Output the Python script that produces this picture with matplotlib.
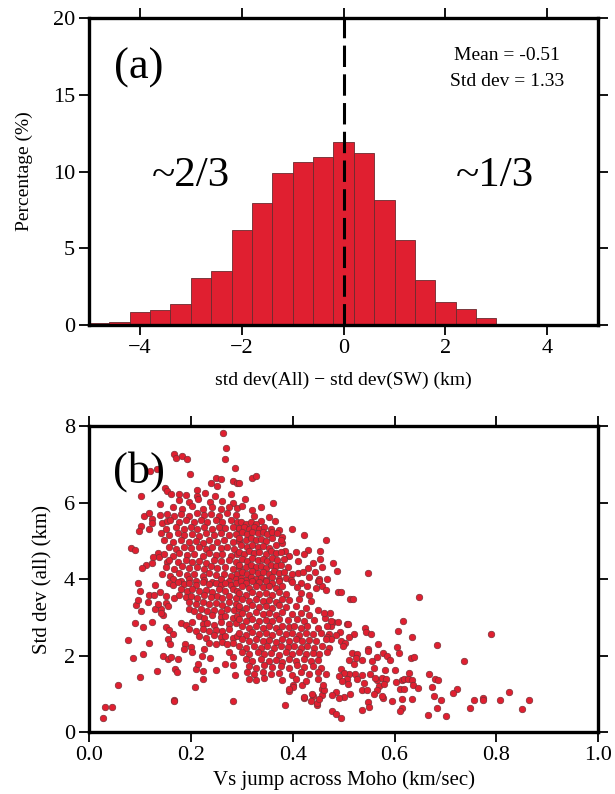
import numpy as np
import matplotlib
matplotlib.use('Agg')
import matplotlib.pyplot as plt

plt.rcParams['font.family'] = ['Liberation Serif', 'DejaVu Serif']

# (a) histogram: percentage per 0.4 km bin, starting at -5 km
bin_start = -5.0
bin_width = 0.4
percentage = [0.1, 0.15, 0.83, 0.98, 1.37, 3.05, 3.51, 6.21, 7.97, 9.87,
              10.63, 10.92, 11.9, 11.24, 8.13, 5.56, 2.94, 1.48, 1.05, 0.41]
mean_txt = 'Mean = -0.51'
std_txt = 'Std dev = 1.33'

# (b) scatter: Vs jump (km/s) vs std dev (km)
points_txt = """
0.263 7.82, 0.270 7.43, 0.267 7.14, 0.287 6.90, 0.166 7.28, 0.171 7.16, 0.182 7.21, 0.193 7.14,
0.199 6.75, 0.119 6.82, 0.134 6.88, 0.103 6.17, 0.149 6.38, 0.154 6.30, 0.139 5.95, 0.249 6.63,
0.259 6.61, 0.240 6.50, 0.252 6.43, 0.283 6.57, 0.291 6.50, 0.213 6.33, 0.228 6.26, 0.162 6.21,
0.177 6.21, 0.191 6.19, 0.213 6.17, 0.247 6.17, 0.279 6.21, 0.109 5.65, 0.118 5.72, 0.139 5.67,
0.154 5.71, 0.166 5.64, 0.124 5.57, 0.123 5.46, 0.103 5.38, 0.118 5.31, 0.099 5.26, 0.144 5.46,
0.154 5.52, 0.152 5.32, 0.083 4.81, 0.090 4.77, 0.136 4.68, 0.138 4.57, 0.126 4.57, 0.154 4.44,
0.123 4.43, 0.111 4.36, 0.104 4.28,
0.177 6.06, 0.197 6.01, 0.215 6.08, 0.237 6.02, 0.261 6.05, 0.283 5.99,
0.164 5.88, 0.183 5.83, 0.203 5.90, 0.223 5.84, 0.242 5.89, 0.259 5.82, 0.275 5.87, 0.291 5.85,
0.180 5.71, 0.196 5.66, 0.213 5.72, 0.226 5.67, 0.239 5.70, 0.255 5.65, 0.272 5.72, 0.288 5.68,
0.160 5.54, 0.177 5.49, 0.190 5.55, 0.206 5.50, 0.219 5.53, 0.232 5.48, 0.249 5.55, 0.262 5.50,
0.278 5.54, 0.291 5.49,
0.170 5.36, 0.187 5.31, 0.200 5.37, 0.213 5.32, 0.226 5.35, 0.242 5.30, 0.255 5.37, 0.268 5.33,
0.282 5.36, 0.295 5.31,
0.141 5.19, 0.157 5.14, 0.174 5.20, 0.187 5.15, 0.203 5.18, 0.216 5.13, 0.229 5.19, 0.246 5.15,
0.259 5.20, 0.275 5.14, 0.288 5.18,
0.147 5.01, 0.164 4.96, 0.180 5.02, 0.196 4.97, 0.210 5.00, 0.223 4.95, 0.236 5.02, 0.252 4.98,
0.265 5.01, 0.282 4.96, 0.295 5.00,
0.157 4.84, 0.170 4.79, 0.187 4.85, 0.200 4.80, 0.216 4.83, 0.229 4.78, 0.242 4.85, 0.259 4.81,
0.272 4.84, 0.285 4.79,
0.147 4.66, 0.164 4.61, 0.177 4.67, 0.193 4.62, 0.206 4.65, 0.223 4.60, 0.236 4.67, 0.249 4.63,
0.262 4.66, 0.278 4.61, 0.291 4.65,
0.157 4.49, 0.174 4.44, 0.190 4.50, 0.203 4.45, 0.216 4.48, 0.229 4.43, 0.246 4.50, 0.259 4.46,
0.275 4.49, 0.288 4.44,
0.151 4.32, 0.167 4.27, 0.183 4.33, 0.196 4.28, 0.213 4.31, 0.226 4.26, 0.239 4.33, 0.252 4.29,
0.268 4.32, 0.282 4.27, 0.295 4.31,
0.144 4.14, 0.160 4.09, 0.177 4.15, 0.193 4.10, 0.206 4.13, 0.223 4.08, 0.236 4.15, 0.249 4.11,
0.265 4.14, 0.278 4.09, 0.291 4.13,
0.164 3.99, 0.180 3.94, 0.196 4.00, 0.210 3.95, 0.226 3.98, 0.242 3.93, 0.259 4.00, 0.275 3.96,
0.288 3.99,
0.321 6.65, 0.327 6.69, 0.307 6.08, 0.295 6.50, 0.300 5.91, 0.320 5.80, 0.337 5.87, 0.362 5.98,
0.325 5.65, 0.354 5.61, 0.365 5.52, 0.338 5.52, 0.399 5.32, 0.423 5.14, 0.466 5.01, 0.380 5.11,
0.373 5.28, 0.380 4.93, 0.385 4.74, 0.393 4.60, 0.407 4.71, 0.431 4.76, 0.453 4.72, 0.422 4.65,
0.411 4.47, 0.439 4.43, 0.454 4.53, 0.458 4.32, 0.480 4.43, 0.487 4.20, 0.548 4.15, 0.430 4.30,
0.444 4.18, 0.410 4.17, 0.420 4.18, 0.432 4.06, 0.452 4.01, 0.468 3.99,
0.298 5.49, 0.308 5.44, 0.318 5.50, 0.327 5.45,
0.295 5.33, 0.305 5.37, 0.314 5.32, 0.324 5.36, 0.334 5.31, 0.344 5.35, 0.357 5.30,
0.301 5.23, 0.311 5.18, 0.321 5.24, 0.331 5.19, 0.341 5.22, 0.350 5.17, 0.360 5.23, 0.370 5.20,
0.295 5.06, 0.308 5.01, 0.318 5.07, 0.327 5.02, 0.337 5.05, 0.347 5.00, 0.360 5.06, 0.377 5.03,
0.298 4.88, 0.311 4.83, 0.321 4.89, 0.331 4.84, 0.341 4.87, 0.354 4.82, 0.367 4.88,
0.295 4.71, 0.305 4.66, 0.314 4.72, 0.324 4.67, 0.334 4.70, 0.347 4.65, 0.357 4.72, 0.367 4.68,
0.377 4.71,
0.301 4.53, 0.311 4.48, 0.321 4.54, 0.331 4.49, 0.341 4.52, 0.350 4.47, 0.360 4.54, 0.370 4.50,
0.383 4.53,
0.295 4.36, 0.308 4.31, 0.318 4.37, 0.327 4.32, 0.337 4.35, 0.347 4.30, 0.357 4.37, 0.367 4.33,
0.377 4.36, 0.390 4.31,
0.301 4.19, 0.311 4.14, 0.321 4.20, 0.331 4.15, 0.341 4.18, 0.354 4.13, 0.363 4.20, 0.373 4.16,
0.383 4.19, 0.399 4.14,
0.298 4.03, 0.308 3.98, 0.318 4.04, 0.327 3.99, 0.337 4.02, 0.347 3.97, 0.360 4.04, 0.373 4.00,
0.386 4.03, 0.396 3.98,
0.028 0.37, 0.031 0.65, 0.046 0.65, 0.056 1.22, 0.100 1.43, 0.086 1.93, 0.077 2.40, 0.107 2.03,
0.118 2.34, 0.133 1.59, 0.090 2.84, 0.107 2.74, 0.103 3.16, 0.092 3.31, 0.097 3.45, 0.100 3.69,
0.097 3.90, 0.118 3.57, 0.115 3.40, 0.128 3.57, 0.139 3.65, 0.130 3.84, 0.124 2.88, 0.130 3.21,
0.141 3.21, 0.136 3.34, 0.145 3.06, 0.141 3.10, 0.152 3.38, 0.155 3.29, 0.151 2.75, 0.157 2.68,
0.164 2.56, 0.155 2.42, 0.159 2.29, 0.145 2.00, 0.155 1.92, 0.162 1.96, 0.175 1.90, 0.169 1.64,
0.172 1.58, 0.166 0.84, 0.166 0.80, 0.188 2.29, 0.187 2.17, 0.200 2.23, 0.202 2.10, 0.209 1.19,
0.211 1.65, 0.215 1.78, 0.223 1.59, 0.223 1.39, 0.221 1.98, 0.225 2.17, 0.237 1.94, 0.250 1.61,
0.268 1.77, 0.283 1.74, 0.286 1.49, 0.283 0.81, 0.275 2.10, 0.282 1.96,
0.157 3.90, 0.164 3.85, 0.174 3.91, 0.187 3.86, 0.196 3.89, 0.210 3.84, 0.223 3.91, 0.236 3.87,
0.249 3.90, 0.259 3.85, 0.268 3.89, 0.278 3.84, 0.288 3.90,
0.180 3.73, 0.193 3.68, 0.203 3.74, 0.216 3.69, 0.229 3.72, 0.242 3.67, 0.255 3.74, 0.268 3.70,
0.282 3.73, 0.291 3.68,
0.152 3.56, 0.167 3.51, 0.177 3.57, 0.190 3.52, 0.200 3.55, 0.213 3.50, 0.226 3.57, 0.239 3.53,
0.252 3.56, 0.262 3.51, 0.275 3.55, 0.288 3.50,
0.196 3.39, 0.210 3.34, 0.223 3.40, 0.236 3.35, 0.249 3.38, 0.262 3.33, 0.275 3.40, 0.288 3.36,
0.196 3.21, 0.206 3.16, 0.219 3.22, 0.232 3.17, 0.246 3.20, 0.259 3.15, 0.272 3.22, 0.285 3.18,
0.295 3.21,
0.216 3.04, 0.226 2.99, 0.242 3.05, 0.259 3.00, 0.268 3.03, 0.282 2.98, 0.291 3.04,
0.180 2.86, 0.190 2.81, 0.203 2.87, 0.223 2.82, 0.232 2.85, 0.246 2.80, 0.259 2.87, 0.275 2.83,
0.288 2.86,
0.196 2.69, 0.210 2.64, 0.223 2.70, 0.236 2.65, 0.249 2.68, 0.262 2.63, 0.275 2.70,
0.216 2.52, 0.229 2.47, 0.246 2.53, 0.259 2.48, 0.268 2.51, 0.282 2.46, 0.291 2.52,
0.236 2.34, 0.249 2.29, 0.262 2.35, 0.272 2.30, 0.282 2.33,
0.458 3.83, 0.466 3.71, 0.450 3.94, 0.489 3.66, 0.494 3.67, 0.512 3.47, 0.519 3.47, 0.449 3.19,
0.473 3.10, 0.464 2.97, 0.479 2.88, 0.489 2.88, 0.475 2.77, 0.506 2.82, 0.509 2.82, 0.542 2.73,
0.544 2.62, 0.554 2.56, 0.521 2.57, 0.511 2.49, 0.493 2.62, 0.486 2.53, 0.472 2.57, 0.468 2.49,
0.475 2.42, 0.494 2.38, 0.503 2.34, 0.499 2.25, 0.568 2.29, 0.547 2.17, 0.548 2.13, 0.577 2.06,
0.586 2.00, 0.517 2.06, 0.527 2.04, 0.524 1.94, 0.510 1.88, 0.537 1.88, 0.521 1.79, 0.555 1.85,
0.565 1.96, 0.582 1.62, 0.559 1.68, 0.552 1.53, 0.537 1.49, 0.523 1.53, 0.511 1.53, 0.494 1.64,
0.501 1.55, 0.491 1.47, 0.506 1.38, 0.496 1.34, 0.508 1.25, 0.527 1.38, 0.541 1.29, 0.565 1.36,
0.570 1.21, 0.562 1.42, 0.576 1.42, 0.584 1.40, 0.580 1.25, 0.536 1.11, 0.546 1.11, 0.565 1.10,
0.560 0.99, 0.578 0.90, 0.575 0.94, 0.547 0.79, 0.549 0.65, 0.536 0.58, 0.512 0.99, 0.501 0.92,
0.490 0.88, 0.485 1.06, 0.478 0.96, 0.458 0.96, 0.457 1.12, 0.448 0.72, 0.440 0.94, 0.437 0.99,
0.423 0.88, 0.478 0.55, 0.485 0.46, 0.495 0.36, 0.462 1.11, 0.460 1.24, 0.401 1.24, 0.400 1.17,
0.392 1.08, 0.418 1.24, 0.385 0.71, 0.392 1.12, 0.422 0.91, 0.447 0.75, 0.435 0.82, 0.452 0.87,
0.298 3.95, 0.308 3.90, 0.321 3.96, 0.334 3.91, 0.347 3.94, 0.360 3.89, 0.373 3.95, 0.399 3.92,
0.416 3.90, 0.452 3.94,
0.301 3.82, 0.314 3.77, 0.327 3.83, 0.341 3.78, 0.354 3.81, 0.367 3.76, 0.380 3.82, 0.409 3.79,
0.429 3.81, 0.445 3.77,
0.295 3.64, 0.308 3.59, 0.321 3.65, 0.334 3.60, 0.347 3.63, 0.360 3.58, 0.373 3.65, 0.386 3.61,
0.416 3.64, 0.432 3.59,
0.301 3.47, 0.314 3.42, 0.327 3.48, 0.341 3.43, 0.354 3.46, 0.367 3.41, 0.380 3.48, 0.393 3.44,
0.413 3.47, 0.436 3.42,
0.295 3.30, 0.308 3.25, 0.321 3.31, 0.334 3.26, 0.347 3.29, 0.360 3.24, 0.373 3.31, 0.386 3.27,
0.406 3.30, 0.426 3.25,
0.301 3.12, 0.314 3.07, 0.327 3.13, 0.341 3.08, 0.354 3.11, 0.367 3.06, 0.380 3.13, 0.399 3.09,
0.416 3.12, 0.432 3.07, 0.462 3.11,
0.295 2.95, 0.308 2.90, 0.321 2.96, 0.334 2.91, 0.347 2.94, 0.360 2.89, 0.373 2.96, 0.390 2.92,
0.409 2.95, 0.422 2.90, 0.442 2.94, 0.475 2.91,
0.301 2.77, 0.314 2.72, 0.327 2.78, 0.341 2.73, 0.354 2.76, 0.367 2.71, 0.380 2.78, 0.393 2.74,
0.403 2.77, 0.416 2.72, 0.429 2.76, 0.449 2.73, 0.468 2.77,
0.295 2.60, 0.308 2.55, 0.321 2.61, 0.334 2.56, 0.347 2.59, 0.360 2.54, 0.373 2.61, 0.386 2.57,
0.399 2.60, 0.413 2.55, 0.426 2.59, 0.439 2.56, 0.455 2.60,
0.301 2.42, 0.314 2.37, 0.327 2.43, 0.341 2.38, 0.354 2.41, 0.367 2.36, 0.380 2.43, 0.393 2.39,
0.406 2.42, 0.419 2.37, 0.432 2.41, 0.445 2.38, 0.465 2.42,
0.295 2.25, 0.308 2.20, 0.324 2.26, 0.337 2.21, 0.350 2.24, 0.363 2.19, 0.377 2.26, 0.390 2.22,
0.403 2.25, 0.416 2.20, 0.429 2.24, 0.442 2.21, 0.458 2.25, 0.472 2.20,
0.301 2.08, 0.314 2.03, 0.331 2.09, 0.344 2.04, 0.357 2.07, 0.373 2.02, 0.386 2.09, 0.399 2.05,
0.413 2.08, 0.426 2.03, 0.439 2.07, 0.452 2.04, 0.468 2.08,
0.308 1.90, 0.321 1.85, 0.337 1.91, 0.354 1.86, 0.367 1.89, 0.380 1.84, 0.393 1.91, 0.406 1.87,
0.422 1.90, 0.436 1.85, 0.449 1.89,
0.314 1.73, 0.327 1.68, 0.344 1.74, 0.360 1.69, 0.377 1.72, 0.393 1.67, 0.409 1.74, 0.422 1.70,
0.439 1.73, 0.455 1.68,
0.311 1.56, 0.324 1.51, 0.341 1.57, 0.357 1.52, 0.373 1.55, 0.399 1.50, 0.416 1.57, 0.432 1.53,
0.449 1.56, 0.465 1.51,
0.314 1.40, 0.327 1.35, 0.344 1.41, 0.380 1.36, 0.406 1.39, 0.426 1.34, 0.449 1.40,
0.649 3.52, 0.617 2.91, 0.606 2.65, 0.635 2.49, 0.789 2.56, 0.683 2.27, 0.604 2.23, 0.608 2.06,
0.591 1.88, 0.633 1.93, 0.639 1.95, 0.737 1.86, 0.601 1.62, 0.628 1.55, 0.667 1.51, 0.602 1.32,
0.614 1.36, 0.618 1.38, 0.627 1.39, 0.635 1.36, 0.637 1.24, 0.646 1.16, 0.680 1.39, 0.685 1.36,
0.673 1.17, 0.610 1.12, 0.618 1.12, 0.722 1.13, 0.715 1.01, 0.677 0.94, 0.825 1.05, 0.596 0.82,
0.614 0.86, 0.634 0.87, 0.692 0.84, 0.756 0.83, 0.774 0.89, 0.774 0.84, 0.808 0.85, 0.864 0.84,
0.614 0.64, 0.610 0.54, 0.683 0.64, 0.749 0.64, 0.851 0.59, 0.665 0.45, 0.701 0.41
"""
pairs = [p.split() for p in points_txt.replace('\n', ' ').split(',') if p.strip()]
vs_jump = np.array([float(p[0]) for p in pairs])
std_all = np.array([float(p[1]) for p in pairs])

red = '#E01F30'

fig = plt.figure(figsize=(6.15, 7.94), dpi=100)

# ---- (a) histogram
ax1 = fig.add_axes([0.1447, 0.591, 0.828, 0.386])
lefts = bin_start + bin_width * np.arange(len(percentage))
ax1.bar(lefts, percentage, width=bin_width, align='edge',
        color=red, edgecolor='#6b2a2e', linewidth=0.6)
ax1.plot([0, 0], [0, 20], color='black', lw=2.2, linestyle=(0, (7, 2.4)))
ax1.set_xlim(-5, 5)
ax1.set_ylim(0, 20)
ax1.set_xticks([-4, -2, 0, 2, 4])
ax1.set_xticklabels(['\u22124', '\u22122', '0', '2', '4'])
ax1.set_yticks([0, 5, 10, 15, 20])
ax1.set_xlabel('std dev(All) \u2212 std dev(SW) (km)', fontsize=14, labelpad=10)
ax1.set_ylabel('Percentage (%)', fontsize=14, labelpad=14)
ax1.text(-4.02, 16.8, '(a)', fontsize=32, ha='center', va='center')
ax1.text(-3.0, 9.75, '~2/3', fontsize=31, ha='center', va='center')
ax1.text(2.97, 9.75, '~1/3', fontsize=31, ha='center', va='center')
ax1.text(3.21, 17.55, mean_txt, fontsize=14, ha='center', va='center')
ax1.text(3.21, 15.9, std_txt, fontsize=14, ha='center', va='center')

# ---- (b) scatter
ax2 = fig.add_axes([0.1447, 0.078, 0.828, 0.3855])
ax2.scatter(vs_jump, std_all, s=22, color=red, edgecolors='#7a3036',
            linewidths=0.5, zorder=3)
ax2.set_xlim(0, 1)
ax2.set_ylim(0, 8)
ax2.set_xticks([0, 0.2, 0.4, 0.6, 0.8, 1.0])
ax2.set_xticklabels(['0.0', '0.2', '0.4', '0.6', '0.8', '1.0'])
ax2.set_yticks([0, 2, 4, 6, 8])
ax2.set_xlabel('Vs jump across Moho (km/sec)', fontsize=15, labelpad=4)
ax2.set_ylabel('Std dev (all) (km)', fontsize=15, labelpad=8)
ax2.text(0.098, 6.82, '(b)', fontsize=32, ha='center', va='center')

for ax in (ax1, ax2):
    for sp in ax.spines.values():
        sp.set_linewidth(2.4)
    ax.tick_params(direction='out', length=7, width=1.3, top=True, right=True,
                   labelsize=16, pad=3)

fig.savefig('out.png', dpi=100)
